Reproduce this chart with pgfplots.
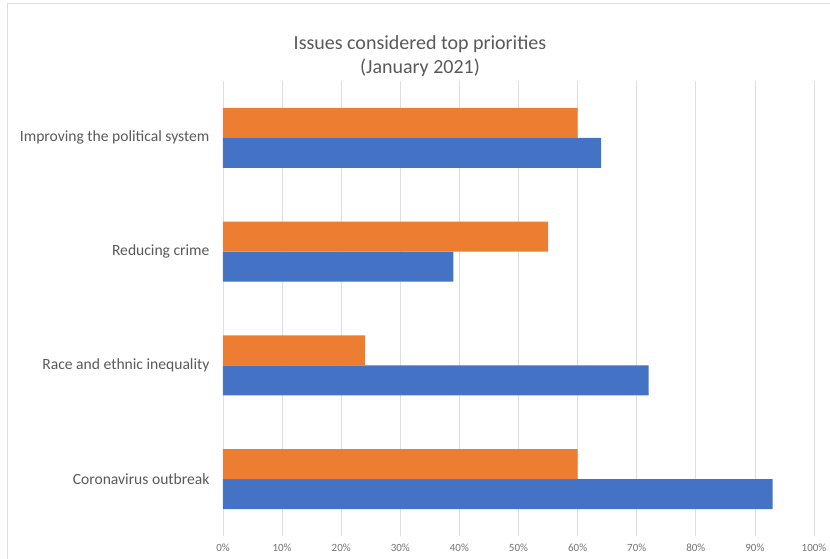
\documentclass[border=0pt]{standalone}
\usepackage{fontspec}
\setmainfont{Carlito}
\usepackage{pgfplots}
\pgfplotsset{compat=1.18}
\definecolor{cblue}{HTML}{4472C4}
\definecolor{corange}{HTML}{ED7D31}
\definecolor{cgrid}{HTML}{DEDEDE}
\definecolor{ctext}{HTML}{595959}
\begin{document}
\begin{tikzpicture}
\useasboundingbox (0pt,0pt) rectangle (830pt,558pt);
\draw[cgrid,line width=1pt] (7pt,-5pt) -- (7pt,554.5pt) -- (835pt,554.5pt);
\node[text=ctext,font=\fontsize{20}{23.5}\selectfont,align=center] at (420pt,502pt) {Issues considered top priorities\\(January 2021)};
\begin{axis}[
  at={(223pt,22pt)}, anchor=south west,
  scale only axis, width=591pt, height=455pt,
  xbar, bar width=30pt,
  xmin=0, xmax=100, ymin=-0.5, ymax=3.5,
  xtick={0,10,...,100},
  xticklabels={0\%,10\%,20\%,30\%,40\%,50\%,60\%,70\%,80\%,90\%,100\%},
  ytick={0,1,2,3},
  yticklabels={Coronavirus outbreak,Race and ethnic inequality,Reducing crime,Improving the political system},
  xmajorgrids, major grid style={cgrid,line width=0.8pt},
  axis line style={draw=none}, major tick length=0pt,
  tick label style={text=ctext},
  xticklabel style={font=\fontsize{11}{13}\selectfont, yshift=-4pt, text=ctext!85},
  yticklabel style={font=\fontsize{15.6}{18}\selectfont, xshift=-10pt},
]
\addplot[fill=cblue, draw=none, bar shift=-15pt] coordinates {(93,0) (72,1) (39,2) (64,3)};
\addplot[fill=corange, draw=none, bar shift=15pt] coordinates {(60,0) (24,1) (55,2) (60,3)};
\end{axis}
\end{tikzpicture}
\end{document}
